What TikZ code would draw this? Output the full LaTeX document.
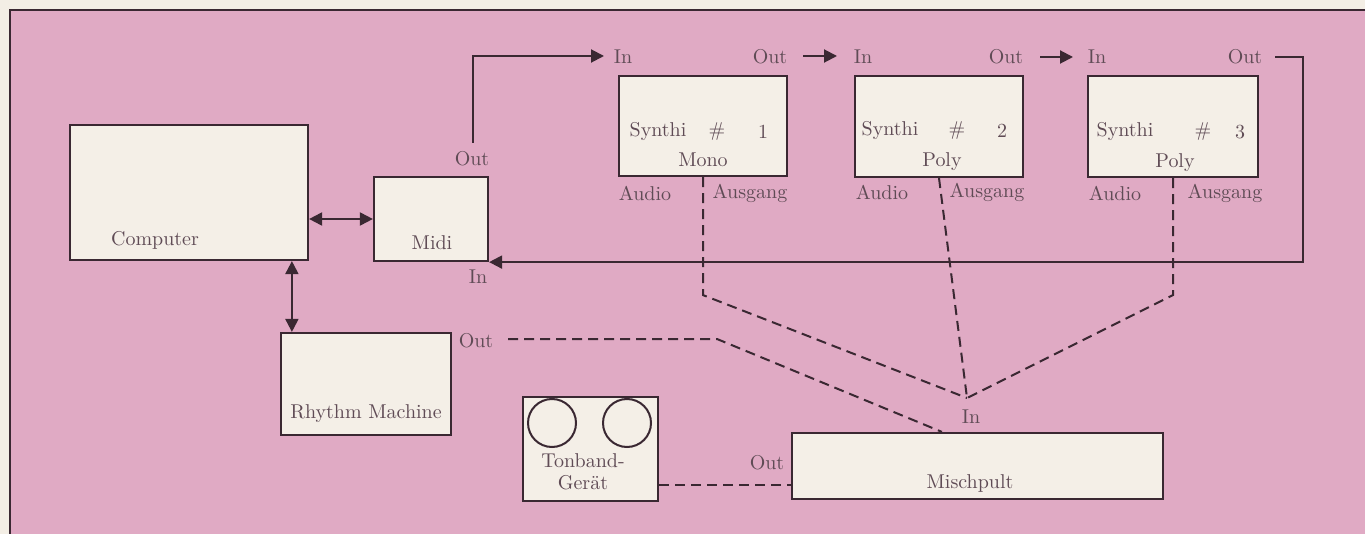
\documentclass[tikz,border=0pt]{standalone}
\usepackage{fontspec}
\usetikzlibrary{positioning,arrows.meta,calc}
\definecolor{pinkbg}{RGB}{224,170,196}
\definecolor{paper}{RGB}{243,238,229}
\definecolor{boxfill}{RGB}{244,239,231}
\definecolor{ink}{RGB}{58,40,50}
\definecolor{txt}{RGB}{95,75,85}
\tikzset{
  unit/.style={draw=ink, fill=boxfill, line width=1.1pt, inner sep=0pt},
  lbl/.style={text=txt, inner sep=0pt},
  signal/.style={draw=ink, line width=1pt},
  audio/.style={draw=ink, line width=1pt, dash pattern=on 5pt off 3pt},
  reel/.style={draw=ink, line width=1pt, circle, minimum size=24pt, inner sep=0pt}
}
\begin{document}
\begin{tikzpicture}[x=0.5pt, y=-0.5pt, font=\fontsize{10}{12}\selectfont,
    >={Triangle[length=6.5pt,width=6.5pt]}]
    \useasboundingbox (0,0) rectangle (1365,534);
    \fill[paper] (0,0) rectangle (1365,534);
    \fill[pinkbg] (10,10) rectangle (1365,534);
    \draw[ink, line width=1pt] (10,534) -- (10,10) -- (1365,10);

    % boxes
    \node[unit, minimum width=119pt, minimum height=67.5pt] (comp) at (189,192.5) {};
    \node[unit, minimum width=57pt, minimum height=42pt] (midi) at (431,219) {};
    \node[unit, minimum width=85pt, minimum height=51pt] (rhythm) at (366,384) {};
    \node[unit, minimum width=84pt, minimum height=50pt] (syn1) at (703,126) {};
    \node[unit, minimum width=84pt, minimum height=50.5pt] (syn2) at (939,126.5) {};
    \node[unit, minimum width=85pt, minimum height=50.5pt] (syn3) at (1173,126.5) {};
    \node[unit, minimum width=67.5pt, minimum height=52pt] (tape) at (590.5,449) {};
    \node[unit, minimum width=185.5pt, minimum height=33pt] (mix) at (977.5,466) {};
    \node[reel] (reelA) at (552,423) {};
    \node[reel] (reelB) at (627,423) {};

    % box texts
    \node[lbl] (compT) at (155,240) {Computer};
    \node[lbl] (midiT) at (432,243) {Midi};
    \node[lbl] (rhythmT) at (366,414) {Rhythm Machine};
    \node[lbl, align=center, font=\fontsize{10}{11}\selectfont] (tapeT) at (583,472) {Tonband-\\Gerät};
    \node[lbl] (mixT) at (970,483) {Mischpult};
    \node[lbl] (s1a) at (658,132) {Synthi};
    \node[lbl] (s1b) at (717,132) {\#};
    \node[lbl] (s1c) at (763,132) {1};
    \node[lbl] (s1d) at (703,160) {Mono};
    \node[lbl] (s2a) at (890,131) {Synthi};
    \node[lbl] (s2b) at (957,131) {\#};
    \node[lbl] (s2c) at (1002,131) {2};
    \node[lbl] (s2d) at (942,162) {Poly};
    \node[lbl] (s3a) at (1125,132) {Synthi};
    \node[lbl] (s3b) at (1203,132) {\#};
    \node[lbl] (s3c) at (1240,132) {3};
    \node[lbl] (s3d) at (1175,163) {Poly};

    % port labels
    \node[lbl] (midiOut) at (472,159) {Out};
    \node[lbl] (midiIn) at (478,277) {In};
    \node[lbl] (s1In) at (623,57) {In};
    \node[lbl] (s1Out) at (770,57) {Out};
    \node[lbl] (s2In) at (863,57) {In};
    \node[lbl] (s2Out) at (1006,57) {Out};
    \node[lbl] (s3In) at (1097,57) {In};
    \node[lbl] (s3Out) at (1245,57) {Out};
    \node[lbl] (s1Au) at (645,193) {Audio};
    \node[lbl] (s1Ag) at (750,193) {Ausgang};
    \node[lbl] (s2Au) at (882,192) {Audio};
    \node[lbl] (s2Ag) at (987,192) {Ausgang};
    \node[lbl] (s3Au) at (1115,193) {Audio};
    \node[lbl] (s3Ag) at (1225,193) {Ausgang};
    \node[lbl] (rhythmOut) at (476,341) {Out};
    \node[lbl] (mixIn) at (971,417) {In};
    \node[lbl] (mixOut) at (767,463) {Out};

    % midi chain
    \draw[signal, <->] (midi.west) -- (midi.west -| comp.east);
    \draw[signal, <->] (rhythm.north west) ++(12,0) coordinate (rtop) -- (rtop |- comp.south);
    \coordinate (mo) at (473,143);
    \coordinate (s1tip) at (604,56);
    \draw[signal, ->] (mo) |- (s1tip);
    \draw[signal, ->] (803,56) coordinate (a1) -- (837,56) coordinate (b1);
    \draw[signal, ->] (1040,57) coordinate (a2) -- (1073,57) coordinate (b2);
    \draw[signal, ->] (1275,57) coordinate (a3) -- ++(28,0) |- (midi.south east);

    % audio lines
    \coordinate (sum) at (967,398);
    \draw[audio] (syn1.south) -- ++(0,118) -- (sum);
    \draw[audio] (syn2.south) -- (sum);
    \draw[audio] (syn3.south) -- ++(0,117) -- (sum);
    \draw[audio] (508,339) coordinate (ro) -- (717,339) -- ($(mix.north west)+(151,0)$);
    \draw[audio] (tape.east |- 0,485) -- (mix.west |- 0,485);
\end{tikzpicture}
\end{document}
